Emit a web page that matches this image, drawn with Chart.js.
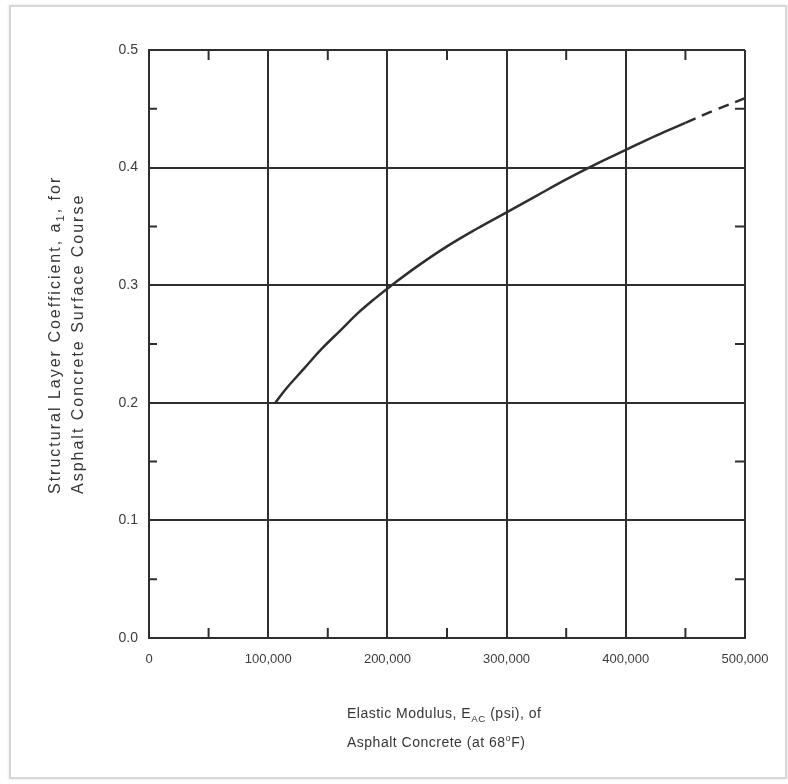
<!DOCTYPE html>
<html>
<head>
<meta charset="utf-8">
<script src="https://cdn.jsdelivr.net/npm/chart.js@4"></script>
<style>
	body { margin: 0; background: #fff; }
	#wrap { position: relative; width: 788px; height: 784px; overflow: hidden; }
	#frame { position: absolute; left: 9px; top: 5px; width: 774px; height: 770px; border: 2px solid #d6d6d6; box-shadow: 0 0 3px rgba(0,0,0,0.12); }
	.title { position: absolute; font-family: "Liberation Sans", Arial, sans-serif; color: #363636; white-space: nowrap; }
	.title sub { font-size: 70%; vertical-align: -0.4em; line-height: 0; }
	.title sup { font-size: 65%; line-height: 0; }
	#xtitle { left: 347px; top: 699px; font-size: 14px; line-height: 29px; letter-spacing: 0.5px; }
	#ytitle { left: 43px; top: 494px; font-size: 16px; line-height: 23px; transform-origin: left top; transform: rotate(-90deg); letter-spacing: 2px; }
</style>
</head>
<body>
<div id="wrap">
	<canvas id="chart" width="788" height="784"></canvas>
	<div id="frame"></div>
	<div class="title" id="ytitle">Structural Layer Coefficient, a<sub>1</sub>, for<br>Asphalt Concrete Surface Course</div>
	<div class="title" id="xtitle">Elastic Modulus, E<sub>AC</sub> (psi), of<br>Asphalt Concrete (at 68<sup>o</sup>F)</div>
</div>
<script>
	// curve (solid part)
	var modulus = [106000, 115000, 130000, 145000, 160000, 175000, 190000, 205000, 225000, 250000, 275000, 300000, 325000, 350000, 375000, 400000, 425000, 450000];
	var coefficient = [0.200, 0.212, 0.229, 0.246, 0.261, 0.276, 0.289, 0.301, 0.316, 0.333, 0.348, 0.362, 0.376, 0.390, 0.403, 0.415, 0.427, 0.438];
	// dashed extrapolation
	var extModulus = [450000, 475000, 500000];
	var extCoefficient = [0.438, 0.449, 0.459];

	var xTicks = [0, 100000, 200000, 300000, 400000, 500000];
	var yTicks = [0.0, 0.1, 0.2, 0.3, 0.4, 0.5];
	var xMinor = [50000, 150000, 250000, 350000, 450000];
	var yMinor = [0.05, 0.15, 0.25, 0.35, 0.45];

	var ink = '#2e2e2e';

	function points(xs, ys) {
		return xs.map(function(x, i) { return { x: x, y: ys[i] }; });
	}

	var minorTicks = {
		id: 'minorTicks',
		afterDatasetsDraw: function(chart) {
			var ctx = chart.ctx, a = chart.chartArea;
			var xs = chart.scales.x, ys = chart.scales.y;
			ctx.save();
			ctx.strokeStyle = ink;
			ctx.lineWidth = 2;
			ctx.beginPath();
			xMinor.forEach(function(v) {
				var px = xs.getPixelForValue(v);
				ctx.moveTo(px, a.top); ctx.lineTo(px, a.top + 10);
				ctx.moveTo(px, a.bottom); ctx.lineTo(px, a.bottom - 10);
			});
			yMinor.forEach(function(v) {
				var py = ys.getPixelForValue(v);
				ctx.moveTo(a.left, py); ctx.lineTo(a.left + 8, py);
				ctx.moveTo(a.right, py); ctx.lineTo(a.right - 10, py);
			});
			ctx.stroke();
			ctx.restore();
		}
	};

	var chart = new Chart(document.getElementById('chart'), {
		type: 'line',
		data: {
			datasets: [
				{
					data: points(modulus, coefficient),
					borderColor: ink,
					borderWidth: 2.5,
					pointRadius: 0,
					tension: 0.4,
					fill: false
				},
				{
					data: points(extModulus, extCoefficient),
					borderColor: ink,
					borderWidth: 2.5,
					borderDash: [11, 7],
					pointRadius: 0,
					tension: 0.4,
					fill: false
				}
			]
		},
		options: {
			responsive: false,
			animation: false,
			layout: { padding: { left: 0, top: 50, right: 43, bottom: 0 } },
			plugins: { legend: { display: false }, tooltip: { enabled: false } },
			scales: {
				x: {
					type: 'linear',
					min: 0,
					max: 500000,
					afterBuildTicks: function(scale) {
						scale.ticks = xTicks.map(function(v) { return { value: v }; });
					},
					afterFit: function(scale) { scale.height = 146; },
					grid: { color: ink, lineWidth: 2, drawTicks: false },
					border: { color: ink, width: 2 },
					ticks: {
						padding: 14,
						maxRotation: 0,
						autoSkip: false,
						color: '#3c3c3c',
						font: { family: '"Liberation Sans", Arial, sans-serif', size: 13 },
						callback: function(v) { return v.toLocaleString('en-US'); }
					}
				},
				y: {
					min: 0,
					max: 0.5,
					afterBuildTicks: function(scale) {
						scale.ticks = yTicks.map(function(v) { return { value: v }; });
					},
					afterFit: function(scale) { scale.width = 149; },
					grid: { color: ink, lineWidth: 2, drawTicks: false },
					border: { color: ink, width: 2 },
					ticks: {
						padding: 11,
						color: '#3c3c3c',
						font: { family: '"Liberation Sans", Arial, sans-serif', size: 14 },
						callback: function(v) { return Number(v).toFixed(1); }
					}
				}
			}
		},
		plugins: [minorTicks]
	});
</script>
</body>
</html>
